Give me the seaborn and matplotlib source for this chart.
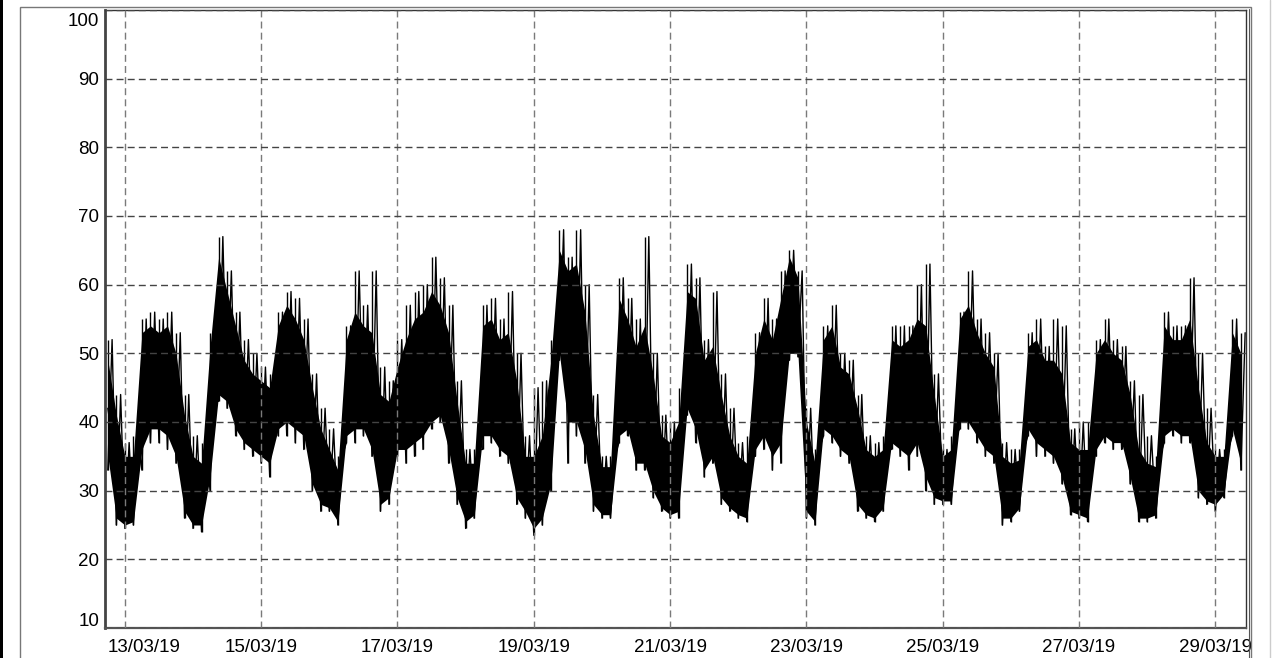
import matplotlib
matplotlib.use("Agg")
import matplotlib.dates as mdates
import matplotlib.pyplot as plt
import matplotlib.transforms as mtransforms
from matplotlib.lines import Line2D
from matplotlib.patches import Rectangle
import pandas as pd
import seaborn as sns

W, H, DPI = 1272, 658, 100

# one sample every 3 hours, first one on 12/03/19 18:00
START = "2019-03-12 18:00"
STEP = "3h"

# envelope (%): spike tops, solid band top/bottom, spike bottoms
spike_hi = [52, 44, 37, 38, 55, 56, 55, 56, 53, 44, 38, 37, 53, 67, 62, 56, 52, 50, 48, 47,
            56, 59, 58, 55, 47, 42, 39, 35, 54, 62, 57, 62, 48, 46, 52, 57, 59, 60, 64, 61,
            57, 46, 36, 36, 57, 58, 55, 59, 50, 38, 45, 46, 52, 68, 64, 68, 60, 44, 35, 35,
            61, 58, 55, 67, 50, 41, 40, 45, 63, 61, 52, 59, 47, 42, 37, 38, 53, 58, 55, 62,
            65, 62, 42, 36, 54, 57, 50, 49, 44, 38, 37, 38, 54, 54, 54, 60, 63, 47, 36, 38,
            56, 62, 55, 53, 50, 37, 36, 36, 53, 55, 51, 55, 54, 39, 40, 40, 52, 55, 52, 51,
            46, 44, 38, 35, 56, 54, 54, 61, 50, 42, 36, 36, 55, 53]
core_hi = [49, 41, 35, 35, 53, 54, 53, 54, 50, 41, 35, 34, 51, 64, 59, 54, 49, 47, 46, 45,
           54, 57, 55, 52, 45, 39, 36, 33, 52, 56, 54, 53, 44, 43, 48, 52, 55, 56, 59, 57,
           53, 43, 34, 34, 54, 55, 52, 53, 46, 35, 35, 38, 49, 65, 62, 63, 56, 41, 33.5, 33.5,
           58, 55, 51, 54, 47, 38, 37, 40, 59, 58, 49, 51, 44, 38, 35, 34, 50, 55, 52, 58,
           64, 61, 40, 34, 52, 54, 48, 47, 42, 36, 35, 36, 52, 51, 52, 55, 54, 44, 35, 36,
           55, 57, 53, 50, 48, 35, 34, 34.5, 51, 52, 49, 49, 47, 37, 36, 36, 50, 52, 50, 49,
           44, 36, 34, 33.5, 54, 52, 52, 55, 45, 37, 35, 35, 53, 50]
core_lo = [35, 26, 25, 25.5, 36, 39, 39, 38, 35, 27, 25, 25, 32, 44, 43, 39, 37, 36, 35, 34,
           39, 40, 39, 38, 31, 28, 27.5, 25.5, 38, 39, 39, 36, 28, 29, 36, 36, 37, 38, 40, 41,
           36, 29, 25.5, 26.5, 38, 38, 36, 35, 29, 27, 24.5, 26, 31, 50, 40, 40, 36, 28, 26.5, 26.5,
           38, 39, 34, 34, 30, 27.5, 26.5, 27, 42, 39, 33, 35, 29, 27.5, 26.5, 26, 36, 38, 35, 37,
           50, 50, 27, 25.5, 39, 38, 36, 35, 28, 26.5, 26, 27.5, 37, 36, 35, 37, 32, 29, 28.5, 28.5,
           40, 40, 38, 36, 35, 26, 26, 27.5, 39, 37, 36, 35, 32, 27, 26.5, 26, 36, 38, 37, 37,
           32, 26, 26, 26.5, 38, 39, 38, 38, 30, 28.5, 28, 29.5, 39, 34]
spike_lo = [33, 25, 24.5, 25, 33, 37, 37, 36, 34, 26, 24.5, 24, 30, 43, 42, 38, 36, 35, 34, 32,
            38, 38, 37, 36, 30, 27, 27, 25, 37, 37, 38, 35, 27, 28, 35, 34, 35, 36, 39, 40,
            34, 28, 24.5, 26, 36, 37, 35, 34, 28, 26, 23.5, 25, 30, 49, 34, 38, 34, 27, 26, 26,
            37, 38, 33, 33, 29, 27, 26, 26, 41, 37, 32, 34, 28, 27, 26, 25.5, 35, 36, 33, 34,
            49, 49.5, 26, 25, 38, 37, 35, 34, 27, 26, 25.5, 27, 36, 35, 33, 35, 30, 28, 28, 28,
            39, 39, 37, 35, 34, 25, 25.5, 27, 38, 35, 35, 34, 31, 26.5, 26, 25.5, 35, 37, 36, 36,
            31, 25.5, 25.5, 26, 37, 38, 37, 37, 29, 28, 27, 29, 38, 33]

TICK_START, TICK_END = "2019-03-13", "2019-03-29"


def px(x, y):
    return x / W, 1 - y / H


def shift_label(fig, label, dx, dy):
    off = mtransforms.ScaledTranslation(dx / DPI, dy / DPI, fig.dpi_scale_trans)
    label.set_transform(label.get_transform() + off)


def main():
    sns.set_style("white")
    plt.rcParams["font.family"] = ["Liberation Sans", "DejaVu Sans"]

    times = pd.date_range(START, periods=len(spike_hi), freq=STEP)
    half = pd.Timedelta(minutes=90)

    band = pd.DataFrame({
        "time": list(times) * 2,
        "value": core_lo + core_hi,
    })
    zig_t, zig_v = [], []
    for t, lo, hi in zip(times, spike_lo, spike_hi):
        zig_t += [t, t + half]
        zig_v += [lo, hi]

    fig = plt.figure(figsize=(W / DPI, H / DPI), dpi=DPI)
    l, b = px(105, 628)
    r, t = px(1246, 10)
    ax = fig.add_axes([l, b, r - l, t - b])

    sns.lineplot(data=band, x="time", y="value", estimator="mean", errorbar=("pi", 100),
                 color="black", linewidth=1, err_kws={"alpha": 1, "linewidth": 0}, ax=ax)
    sns.lineplot(x=zig_t, y=zig_v, estimator=None, sort=False, color="black",
                 linewidth=1.0, ax=ax)
    ax.vlines(times, spike_lo, spike_hi, color="black", linewidth=1.0)

    ax.set_xlim(times[0] - pd.Timedelta(hours=1), times[-1] + pd.Timedelta(hours=1.8))
    ax.set_ylim(10, 100)
    ax.set_yticks(range(10, 101, 10))
    ax.set_xticks(pd.date_range(TICK_START, TICK_END, freq="2D"))
    ax.xaxis.set_major_formatter(mdates.DateFormatter("%d/%m/%y"))
    ax.set_xlabel("")
    ax.set_ylabel("")

    ax.set_axisbelow(False)
    ax.yaxis.grid(True, linestyle=(0, (5, 3)), color="#444444", linewidth=1.0)
    ax.xaxis.grid(True, linestyle=(0, (5, 3)), color="#7a7a7a", linewidth=1.0)

    ax.tick_params(axis="both", direction="out", length=3.6, width=1, color="#444444",
                   labelsize=13.5, labelcolor="black")
    ax.tick_params(axis="y", pad=0.5)
    ax.tick_params(axis="x", pad=4)

    ax.spines["left"].set_linewidth(2.0)
    ax.spines["left"].set_color("#444444")
    ax.spines["bottom"].set_linewidth(1.6)
    ax.spines["bottom"].set_color("#555555")
    ax.spines["top"].set_linewidth(1.0)
    ax.spines["top"].set_color("#333333")
    ax.spines["right"].set_linewidth(1.0)
    ax.spines["right"].set_color("#333333")

    # end labels kept inside the plot area
    first = ax.get_xticklabels()[0]
    first.set_horizontalalignment("left")
    shift_label(fig, first, -17, 0)
    ylabels = ax.get_yticklabels()
    shift_label(fig, ylabels[0], 0, 8)
    shift_label(fig, ylabels[-1], 0, -10)

    # window frame around the chart
    x0, y0 = px(20, 7)
    x1, _ = px(1251, 7)
    fig.add_artist(Rectangle((x0, -0.1), x1 - x0, y0 + 0.1, transform=fig.transFigure,
                             fill=False, edgecolor="#777777", linewidth=1.0))
    xr, _ = px(1248.5, 0)
    fig.add_artist(Line2D([xr, xr], [-0.1, px(0, 8.5)[1]], transform=fig.transFigure,
                          color="#555555", linewidth=0.8))
    fig.add_artist(Rectangle((0, 0), 2.5 / W, 1, transform=fig.transFigure,
                             facecolor="black", edgecolor="none"))
    xg, _ = px(1270, 0)
    fig.add_artist(Line2D([xg, xg], [0, 1], transform=fig.transFigure,
                          color="#cccccc", linewidth=1.0))

    fig.savefig("out.png", dpi=DPI)


if __name__ == "__main__":
    main()
